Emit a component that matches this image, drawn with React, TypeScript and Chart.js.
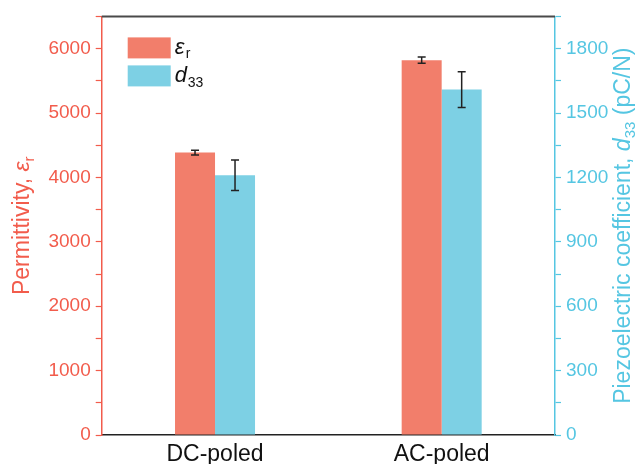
import React, { useEffect, useRef } from "react";
import { Chart, registerables } from "chart.js";

Chart.register(...registerables);

const categories = ["DC-poled", "AC-poled"];
const permittivity = [4385, 5820];
const permittivityErr = [38, 48];
const d33 = [1210, 1609];
const d33Err = [71, 83];

const RED_BAR = "#F27E6B";
const CYAN_BAR = "#7DD0E4";
const RED_AXIS = "#F25C4C";
const CYAN_AXIS = "#55C6E2";
const FONT = "'Liberation Sans', Arial, sans-serif";

function drawParts(
  ctx: CanvasRenderingContext2D,
  parts: { t: string; font: string; dy: number }[]
) {
  let total = 0;
  const widths = parts.map((p) => {
    ctx.font = p.font;
    const w = ctx.measureText(p.t).width;
    total += w;
    return w;
  });
  let x = -total / 2;
  parts.forEach((p, i) => {
    ctx.font = p.font;
    ctx.fillText(p.t, x, p.dy);
    x += widths[i];
  });
}

const decorPlugin = {
  id: "decor",
  afterDatasetsDraw(chart: any) {
    const ctx: CanvasRenderingContext2D = chart.ctx;
    const errs = [permittivityErr, d33Err];
    chart.data.datasets.forEach((ds: any, i: number) => {
      const meta = chart.getDatasetMeta(i);
      const scale = chart.scales[ds.yAxisID];
      meta.data.forEach((el: any, j: number) => {
        const v = ds.data[j];
        const e = errs[i][j];
        const yt = scale.getPixelForValue(v + e);
        const yb = scale.getPixelForValue(v - e);
        const x = el.x;
        ctx.save();
        ctx.strokeStyle = "#222";
        ctx.lineWidth = 1.5;
        ctx.beginPath();
        ctx.moveTo(x, yt);
        ctx.lineTo(x, yb);
        ctx.moveTo(x - 4, yt);
        ctx.lineTo(x + 4, yt);
        ctx.moveTo(x - 4, yb);
        ctx.lineTo(x + 4, yb);
        ctx.stroke();
        ctx.restore();
      });
    });
  },
  afterDraw(chart: any) {
    const ctx: CanvasRenderingContext2D = chart.ctx;
    const a = chart.chartArea;
    ctx.save();
    // top frame line
    ctx.strokeStyle = "#4a4a4a";
    ctx.lineWidth = 2;
    ctx.beginPath();
    ctx.moveTo(a.left, a.top);
    ctx.lineTo(a.right, a.top);
    ctx.stroke();

    // legend
    const lx = a.left + 26;
    const ly = a.top + 21;
    ctx.fillStyle = RED_BAR;
    ctx.fillRect(lx, ly, 43, 21);
    ctx.fillStyle = CYAN_BAR;
    ctx.fillRect(lx, ly + 28, 43, 21);
    ctx.fillStyle = "#111";
    ctx.textBaseline = "alphabetic";
    ctx.textAlign = "left";
    ctx.font = `italic 22px ${FONT}`;
    ctx.fillText("ε", lx + 47, ly + 17);
    ctx.font = `14px ${FONT}`;
    ctx.fillText("r", lx + 58, ly + 21);
    ctx.font = `italic 22px ${FONT}`;
    ctx.fillText("d", lx + 47, ly + 45);
    ctx.font = `14px ${FONT}`;
    ctx.fillText("33", lx + 60, ly + 50);

    // left axis title
    ctx.textAlign = "left";
    ctx.fillStyle = RED_AXIS;
    ctx.save();
    ctx.translate(29, (a.top + a.bottom) / 2);
    ctx.rotate(-Math.PI / 2);
    drawParts(ctx, [
      { t: "Permittivity, ", font: `23px ${FONT}`, dy: 0 },
      { t: "ε", font: `italic 23px ${FONT}`, dy: 0 },
      { t: "r", font: `15px ${FONT}`, dy: 5 },
    ]);
    ctx.restore();

    // right axis title
    ctx.fillStyle = CYAN_AXIS;
    ctx.save();
    ctx.translate(630, (a.top + a.bottom) / 2);
    ctx.rotate(-Math.PI / 2);
    drawParts(ctx, [
      { t: "Piezoelectric coefficient, ", font: `23px ${FONT}`, dy: 0 },
      { t: "d", font: `italic 23px ${FONT}`, dy: 0 },
      { t: "33", font: `15px ${FONT}`, dy: 5 },
      { t: " (pC/N)", font: `23px ${FONT}`, dy: 0 },
    ]);
    ctx.restore();
    ctx.restore();
  },
};

export default function App() {
  const ref = useRef<HTMLCanvasElement | null>(null);
  useEffect(() => {
    if (!ref.current) return;
    Chart.defaults.font.family = FONT;
    const chart = new Chart(ref.current, {
      type: "bar",
      data: {
        labels: categories,
        datasets: [
          {
            label: "εr",
            data: permittivity,
            backgroundColor: RED_BAR,
            yAxisID: "y",
            categoryPercentage: 0.353,
            barPercentage: 1,
          },
          {
            label: "d33",
            data: d33,
            backgroundColor: CYAN_BAR,
            yAxisID: "y1",
            categoryPercentage: 0.353,
            barPercentage: 1,
          },
        ],
      },
      options: {
        animation: false,
        responsive: true,
        maintainAspectRatio: false,
        layout: { padding: { top: 14, left: 0, right: 0, bottom: 0 } },
        plugins: { legend: { display: false }, tooltip: { enabled: false } },
        scales: {
          x: {
            grid: { display: false, drawTicks: false },
            border: { display: true, color: "#222", width: 1.5 },
            ticks: { color: "#111", font: { size: 23 }, padding: 6 },
            afterFit: (s: any) => {
              s.height = 29;
            },
          },
          y: {
            position: "left",
            min: 0,
            max: 6500,
            border: { display: true, color: RED_AXIS, width: 1.5 },
            grid: {
              drawOnChartArea: false,
              tickLength: 6,
              tickColor: RED_AXIS,
              tickWidth: 1.2,
            },
            ticks: {
              stepSize: 500,
              color: RED_AXIS,
              font: { size: 19 },
              padding: 5,
              callback: (v: any) => (Number(v) % 1000 === 0 ? String(v) : ""),
            },
            afterFit: (s: any) => {
              s.width = 101.7;
            },
          },
          y1: {
            position: "right",
            min: 0,
            max: 1950,
            border: { display: true, color: CYAN_AXIS, width: 1.5 },
            grid: {
              drawOnChartArea: false,
              tickLength: 6,
              tickColor: CYAN_AXIS,
              tickWidth: 1.2,
            },
            ticks: {
              stepSize: 150,
              color: CYAN_AXIS,
              font: { size: 19 },
              padding: 5,
              callback: (v: any) => (Number(v) % 300 === 0 ? String(v) : ""),
            },
            afterFit: (s: any) => {
              s.width = 84;
            },
          },
        },
      },
      plugins: [decorPlugin],
    });
    return () => chart.destroy();
  }, []);
  return (
    <div style={{ position: "absolute", left: 0, top: 0, width: 639, height: 464 }}>
      <canvas ref={ref} />
    </div>
  );
}
